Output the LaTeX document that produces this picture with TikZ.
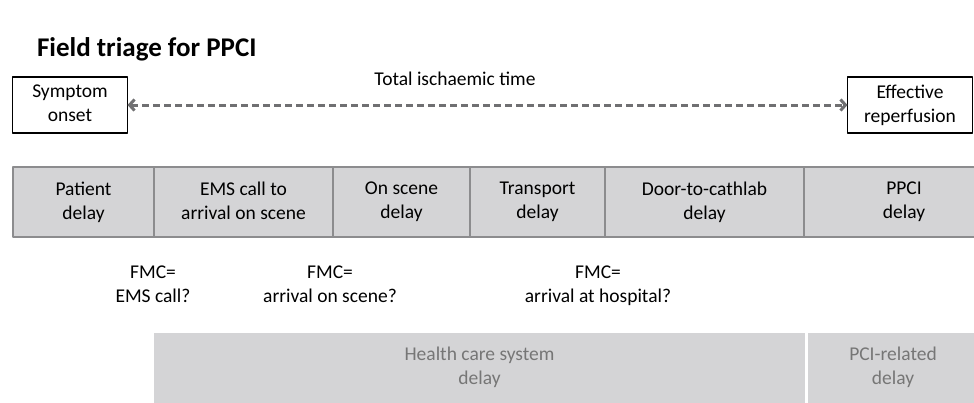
\documentclass[tikz,border=0pt]{standalone}
\usepackage{fontspec}
\setmainfont{Carlito}
\usetikzlibrary{arrows.meta}
\definecolor{cellgray}{RGB}{212,212,214}
\definecolor{edgegray}{RGB}{140,140,142}
\definecolor{arrowgray}{RGB}{112,112,114}
\definecolor{textgray}{RGB}{118,118,118}
\begin{document}
\begin{tikzpicture}[x=1pt,y=-1pt,line join=round,
	every node/.style={font=\fontsize{19.5}{24}\selectfont,align=center,inner sep=0pt,outer sep=0pt,
		execute at begin node=\vphantom{Pl},execute at end node=\vphantom{y}},
	endbox/.style={draw,line width=1.3pt,minimum height=56},
	cell/.style={draw=edgegray,fill=cellgray,line width=2.6pt,minimum height=70},
	sysbox/.style={fill=cellgray,text=textgray,minimum height=70}]
	\useasboundingbox (0,0) rectangle (974,402);
	\clip (0,0) rectangle (974,402);
	% title
	\node[anchor=base west,font=\fontsize{27}{32}\selectfont\bfseries] (title) at (37,56) {Field triage for PPCI};
	% start and end of the ischaemic time
	\node[endbox,minimum width=115] (onset) at (70,105) {Symptom\\onset};
	\node[endbox,minimum width=125] (reperf) at (910,105) {Effective\\reperfusion};
	\draw[arrowgray,line width=3pt,dash pattern=on 7pt off 4pt,
		{Straight Barb[length=5pt,width=11pt]}-{Straight Barb[length=5pt,width=11pt]}]
		(onset) -- (reperf);
	\node (total) at (455,80) {Total ischaemic time};
	% the delays, one cell each
	\node[cell,minimum width=141] (patient) at (83.5,202) {Patient\\delay};
	\node[cell,minimum width=179] (ems) at (243.5,202) {EMS call to\\arrival on scene};
	\node[cell,minimum width=137] (scene) at (401.5,202) {On scene\\delay};
	\node[cell,minimum width=135] (transport) at (537.5,202) {Transport\\delay};
	\node[cell,minimum width=199] (door) at (704.5,202) {Door-to-cathlab\\delay};
	\node[cell,minimum width=200] (ppci) at (904,202) {PPCI\\delay};
	% possible first medical contact
	\node (fmccall) at (153,286) {FMC=\\EMS call?};
	\node (fmcscene) at (330,286) {FMC=\\arrival on scene?};
	\node (fmchosp) at (598,286) {FMC=\\arrival at hospital?};
	% grouped delays
	\node[sysbox,minimum width=651] (health) at (479.5,367.5) {Health care system\\delay};
	\node[sysbox,minimum width=170] (pci) at (893,367.5) {PCI-related\\delay};
\end{tikzpicture}
\end{document}
